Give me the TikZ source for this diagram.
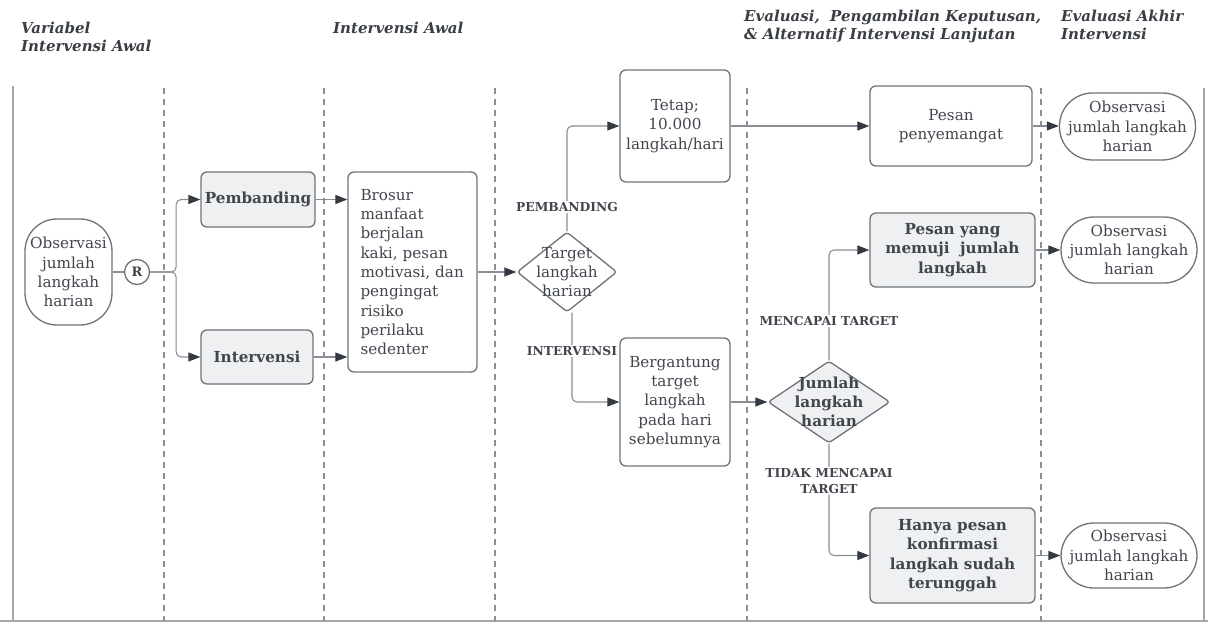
\documentclass[tikz,border=0pt]{standalone}
\usepackage{fontspec}
\setmainfont{DejaVu Serif}
\usetikzlibrary{arrows.meta,shapes.geometric}
\definecolor{txt}{HTML}{41454D}
\definecolor{edgec}{HTML}{6E7379}
\definecolor{connc}{HTML}{8A8E94}
\definecolor{fillg}{HTML}{EFF0F2}
\definecolor{lanec}{HTML}{8C9096}
\definecolor{tipc}{HTML}{353A42}
\begin{document}
\begin{tikzpicture}[x=1pt,y=-1pt,
  box/.style={draw=edgec,line width=1.3pt,rounded corners=6pt,text=txt,align=center,inner sep=0pt,
    font=\fontsize{15.2}{19.3}\selectfont},
  gbox/.style={box,fill=fillg,font=\fontsize{15.2}{19.3}\selectfont\bfseries},
  stad/.style={box,rounded corners=32pt},
  dia/.style={diamond,draw=edgec,line width=1.3pt,rounded corners=3pt,inner sep=0pt},
  dtext/.style={text=txt,align=center,inner sep=0pt,font=\fontsize{15.2}{19.3}\selectfont},
  conn/.style={draw=connc,line width=1.1pt},
  arr/.style={conn,-{Triangle[length=12pt,width=9pt,color=tipc]},rounded corners=5pt},
  lbl/.style={fill=white,text=txt,inner sep=1.5pt,align=center,font=\fontsize{12.3}{16}\selectfont\bfseries},
  hdr/.style={anchor=north west,inner sep=0pt,align=left,text=txt!90!black,font=\fontsize{15}{18}\selectfont\bfseries\itshape},
  lanel/.style={draw=lanec,line width=1.1pt,dash pattern=on 6pt off 5pt},
  outer/.style={draw=lanec!80,line width=1.6pt}
]
\useasboundingbox (0,0) rectangle (1208,623);

% lanes
\draw[outer] (13,86) -- (13,621);
\draw[outer] (1204,88) -- (1204,621);
\draw[outer] (0,621) -- (1208,621);
\foreach \x in {164,324,495,747,1041} \draw[lanel] (\x,88) -- (\x,621);

% headers
\node[hdr] (h1) at (21,22) {Variabel\\Intervensi Awal};
\node[hdr] (h2) at (333,22) {Intervensi Awal};
\node[hdr] (h3) at (744,10) {Evaluasi,\ \ Pengambilan Keputusan,\\\& Alternatif Intervensi Lanjutan};
\node[hdr] (h4) at (1061,10) {Evaluasi Akhir\\Intervensi};

% nodes
\node[stad,fill=white,minimum width=87,minimum height=106] (obsL) at (68.5,272) {Observasi\\jumlah\\langkah\\harian};
\node[circle,draw=edgec,line width=1.3pt,fill=white,minimum size=25,inner sep=0pt,text=txt,font=\fontsize{13}{14}\selectfont\bfseries] (R) at (137,272) {R};
\node[gbox,minimum width=114,minimum height=55] (pemb) at (258,199.5) {Pembanding};
\node[gbox,minimum width=112,minimum height=54] (interv) at (257,357) {Intervensi};
\node[box,minimum width=129,minimum height=200,text width=104,align=left] (brosur) at (412.5,272)
  {Brosur\\manfaat\\berjalan\\kaki, pesan\\motivasi, dan\\pengingat\\risiko\\perilaku\\sedenter};
\node[dia,fill=white,minimum width=100,minimum height=80] (d1) at (567,272) {};
\node[dtext] (d1t) at (d1) {Target\\langkah\\harian};
\node[box,minimum width=110,minimum height=112] (tetap) at (675,126) {Tetap;\\10.000\\langkah/hari};
\node[box,minimum width=110,minimum height=128] (berg) at (675,402) {Bergantung\\target\\langkah\\pada hari\\sebelumnya};
\node[box,minimum width=162,minimum height=80] (peny) at (951,126) {Pesan\\penyemangat};
\node[gbox,minimum width=165,minimum height=74] (memuji) at (952.5,250) {Pesan yang\\memuji\ \ jumlah\\langkah};
\node[dia,fill=fillg,minimum width=122,minimum height=82] (d2) at (829,402) {};
\node[dtext,font=\fontsize{15.2}{19.3}\selectfont\bfseries] (d2t) at (d2) {Jumlah\\langkah\\harian};
\node[gbox,minimum width=165,minimum height=95] (hanya) at (952.5,555.5) {Hanya pesan\\konfirmasi\\langkah sudah\\terunggah};
\node[stad,rounded corners=33pt,minimum width=136,minimum height=67] (o1) at (1127.5,126.5) {Observasi\\jumlah langkah\\harian};
\node[stad,rounded corners=33pt,minimum width=136,minimum height=66] (o2) at (1129,250) {Observasi\\jumlah langkah\\harian};
\node[stad,rounded corners=33pt,minimum width=136,minimum height=65] (o3) at (1129,555.5) {Observasi\\jumlah langkah\\harian};

% connectors
\draw[conn] (obsL) -- (R);
\draw[arr] (R.east) -- ++(26,0) |- (pemb.west);
\draw[arr] (R.east) -- ++(26,0) |- (interv.west);
\draw[arr] (pemb.east) -- (pemb.east -| brosur.west);
\draw[arr] (interv.east) -- (interv.east -| brosur.west);
\draw[arr] (brosur.east) -- (d1.west);
\draw[arr] (d1.north) |- (tetap.west);
\draw[arr] ([xshift=5pt]d1.south) |- (berg.west);
\draw[arr] (tetap.east) -- (tetap.east -| peny.west);
\draw[arr] (berg.east) -- (d2.west);
\draw[arr] (d2.north) |- (memuji.west);
\draw[arr] (d2.south) |- (hanya.west);
\draw[arr] (peny.east) -- (peny.east -| o1.west);
\draw[arr] (memuji.east) -- (memuji.east -| o2.west);
\draw[arr] (hanya.east) -- (hanya.east -| o3.west);

% labels
\node[lbl] (l1) at (567,207) {PEMBANDING};
\node[lbl] (l2) at (572,351) {INTERVENSI};
\node[lbl] (l3) at (829,321) {MENCAPAI TARGET};
\node[lbl] (l4) at (829,481) {TIDAK MENCAPAI\\TARGET};
\end{tikzpicture}
\end{document}
